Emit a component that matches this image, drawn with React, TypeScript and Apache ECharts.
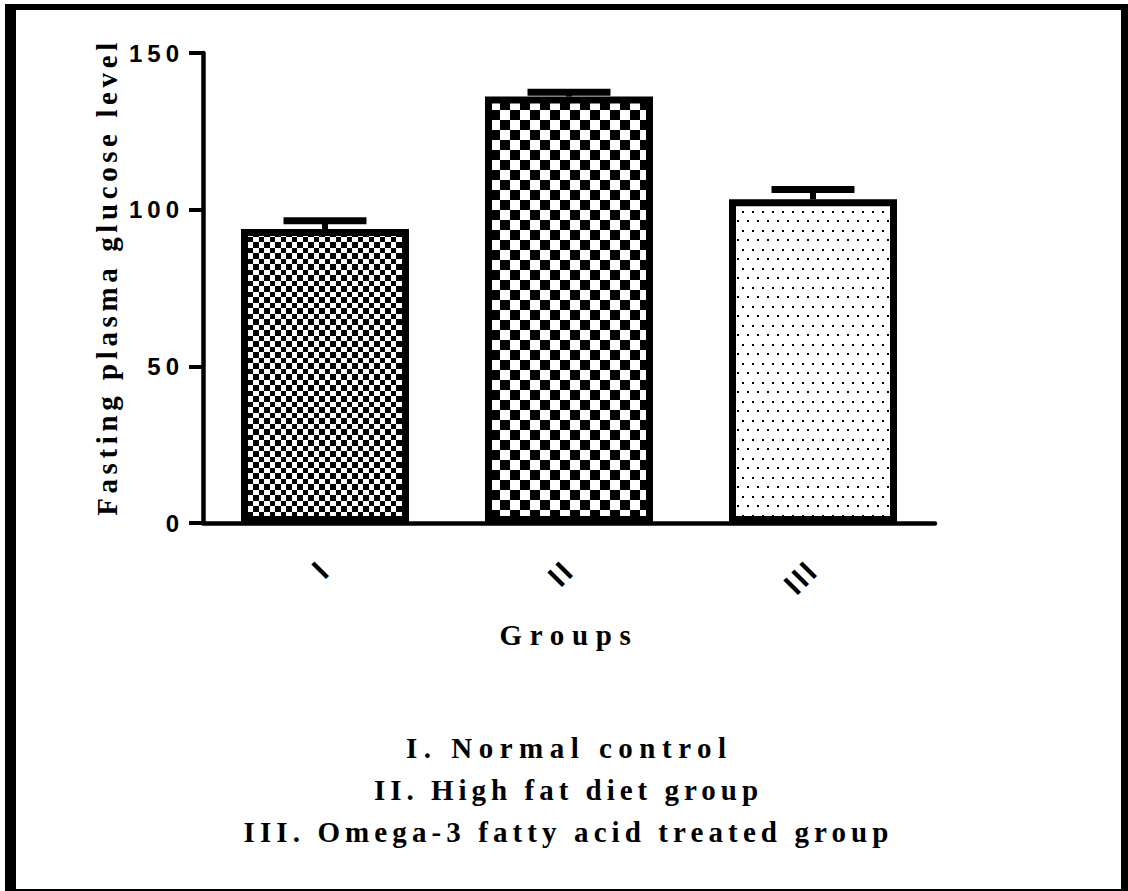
import React, { useEffect, useRef } from 'react';
import * as echarts from 'echarts';

const categories = ['I', 'II', 'III'];
const means = [93.8, 136.1, 103.3];
const errors = [2.7, 1.4, 3.1];
const yMin = 0;
const yMax = 150;
const yInterval = 50;
const yTickLabels = ['0', '50', '100', '150'];
const xTitle = 'Groups';
const yTitle = 'Fasting plasma glucose level';
const legendLines = [
  'I. Normal control',
  'II. High fat diet group',
  'III. Omega-3 fatty acid treated group',
];

function makeCanvas(w: number, h: number, draw: (ctx: CanvasRenderingContext2D) => void) {
  const c = document.createElement('canvas');
  c.width = w;
  c.height = h;
  const ctx = c.getContext('2d') as CanvasRenderingContext2D;
  ctx.fillStyle = '#fff';
  ctx.fillRect(0, 0, w, h);
  ctx.fillStyle = '#000';
  draw(ctx);
  return c;
}

function checker(a: number, b: number) {
  const t = a + b;
  const c = makeCanvas(t, t, (ctx) => {
    ctx.fillRect(0, 0, a, a);
    ctx.fillRect(a, a, b, b);
  });
  return { image: c, repeat: 'repeat', imageWidth: t, imageHeight: t };
}

function dots() {
  const c = makeCanvas(10, 19, (ctx) => {
    ctx.fillRect(2, 2, 2, 2);
    ctx.fillRect(7, 11, 2, 2);
  });
  return { image: c, repeat: 'repeat', imageWidth: 10, imageHeight: 19 };
}

const SERIF = "'Liberation Serif', 'Times New Roman', serif";
const SANS = "'Liberation Sans', Arial, sans-serif";
const SERIF_SIZE = 29;
const LEGEND_SPACING = [6.5, 5, 5.1];

export default function App() {
  const ref = useRef<HTMLDivElement>(null);

  useEffect(() => {
    const el = ref.current;
    if (!el) return;
    const chart = echarts.init(el, null, { renderer: 'svg' });
    const patterns = [checker(6, 5), checker(10, 10), dots()];

    const option: any = {
      animation: false,
      backgroundColor: '#fff',
      grid: { left: 203, right: 193, top: 53, bottom: 368, containLabel: false },
      xAxis: {
        type: 'category',
        data: categories,
        axisLine: { lineStyle: { color: '#000', width: 4.5 } },
        axisTick: { alignWithLabel: true, length: 16, lineStyle: { color: '#000', width: 4 } },
        axisLabel: {
          rotate: 45,
          margin: 42,
          fontSize: 30,
          fontWeight: 'bold',
          fontFamily: SANS,
          color: '#000',
        },
        name: xTitle,
        nameLocation: 'middle',
        nameGap: 97,
        nameTextStyle: { fontSize: SERIF_SIZE, fontWeight: 'bold', fontFamily: SERIF, color: '#000' },
      },
      yAxis: {
        type: 'value',
        min: yMin,
        max: yMax,
        interval: yInterval,
        splitLine: { show: false },
        axisLine: { show: true, lineStyle: { color: '#000', width: 4.5 } },
        axisTick: { show: true, length: 14, lineStyle: { color: '#000', width: 4 } },
        axisLabel: {
          margin: 19,
          fontSize: 24,
          fontWeight: 'bold',
          fontFamily: SANS,
          color: '#000',
          formatter: (v: number) => yTickLabels[Math.round((v - yMin) / yInterval)] ?? String(v),
        },
      },
      graphic: [
        { type: 'rect', shape: { x: 5, y: 4, width: 11, height: 887 }, style: { fill: '#000' } },
        { type: 'rect', shape: { x: 5, y: 4, width: 1122, height: 6 }, style: { fill: '#000' } },
        { type: 'rect', shape: { x: 1121, y: 4, width: 7, height: 887 }, style: { fill: '#000' } },
        { type: 'rect', shape: { x: 5, y: 889, width: 1122, height: 2 }, style: { fill: '#000' } },
        {
          type: 'text',
          x: 107,
          y: 277,
          rotation: Math.PI / 2,
          style: {
            text: yTitle,
            fontSize: SERIF_SIZE,
            fontWeight: 'bold',
            fontFamily: SERIF,
            fill: '#000',
            textAlign: 'center',
            textVerticalAlign: 'middle',
          },
        },
        ...legendLines.map((t, i) => ({
          type: 'text',
          x: 566 + LEGEND_SPACING[i] / 2,
          y: 748 + i * 42,
          style: {
            text: t,
            fontSize: SERIF_SIZE,
            fontWeight: 'bold',
            fontFamily: SERIF,
            fill: '#000',
            textAlign: 'center',
            textVerticalAlign: 'middle',
          },
        })),
      ],
      series: [
        {
          type: 'bar',
          barWidth: 168,
          data: means.map((v, i) => ({ value: v, itemStyle: { color: patterns[i] } })),
          itemStyle: { borderColor: '#000', borderWidth: 7 },
          z: 2,
        },
        {
          type: 'custom',
          z: 3,
          data: means.map((m, i) => [i, m, errors[i]]),
          renderItem: (params: any, api: any) => {
            const x = api.value(0);
            const m = api.value(1);
            const e = api.value(2);
            const base = api.coord([x, m]);
            const top = api.coord([x, m + e]);
            const half = api.size([1, 0])[0] * 0.17;
            return {
              type: 'group',
              children: [
                {
                  type: 'line',
                  shape: { x1: base[0], y1: base[1], x2: top[0], y2: top[1] },
                  style: { stroke: '#000', lineWidth: 6 },
                },
                {
                  type: 'line',
                  shape: { x1: top[0] - half, y1: top[1], x2: top[0] + half, y2: top[1] },
                  style: { stroke: '#000', lineWidth: 7 },
                },
              ],
            };
          },
        },
      ],
    };

    chart.setOption(option);

    const applySpacing = () => {
      el.querySelectorAll('text').forEach((t) => {
        const s = (t.textContent || '').trim();
        let ls: number | null = null;
        if (yTickLabels.includes(s)) ls = 5;
        else if (categories.includes(s)) ls = 3;
        else if (s === xTitle) ls = 7.7;
        else if (s === yTitle) ls = 4.6;
        else if (legendLines.includes(s)) ls = LEGEND_SPACING[legendLines.indexOf(s)];
        if (ls != null) t.setAttribute('letter-spacing', ls + 'px');
      });
    };
    applySpacing();
    chart.on('finished', applySpacing);
    const timer = setTimeout(applySpacing, 50);

    return () => {
      clearTimeout(timer);
      chart.dispose();
    };
  }, []);

  return (
    <div
      ref={ref}
      style={{ position: 'fixed', left: 0, top: 0, width: 1128, height: 891, background: '#fff' }}
    />
  );
}
